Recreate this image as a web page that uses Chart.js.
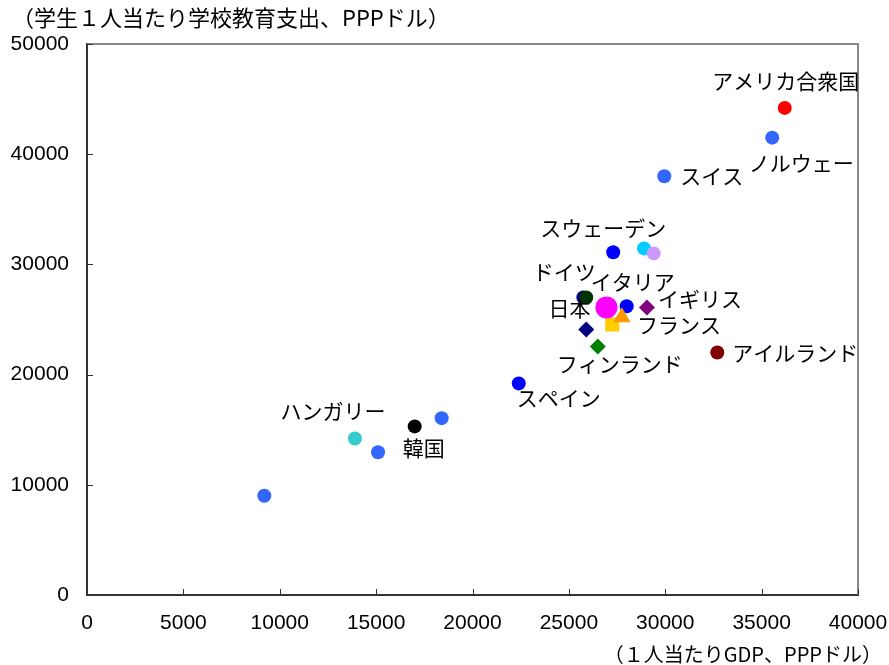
<!DOCTYPE html>
<html><head><meta charset="utf-8">
<script src="https://cdn.jsdelivr.net/npm/chart.js@4.4.1/dist/chart.umd.min.js"></script>
<style>html,body{margin:0;padding:0;background:#fff}#wrap{width:889px;height:665px}</style>
</head><body><div id="wrap"><canvas id="c" width="889" height="665"></canvas></div>
<script>
// Data (GDP per capita PPP $, expenditure per student PPP $)
const gdp      = [9200, 15100, 13900, 18400, 17000, 22400, 25900, 26500, 25900, 27300, 28000, 27250, 27750, 29050, 26950, 32700, 29950, 35550, 36200, 28900, 29400];
const spending = [9000, 12950, 14200, 16050, 15300, 19200, 27000, 22550, 24100, 31100, 26200, 24550, 25200, 26100, 26100, 22000, 38000, 41500, 44200, 31450, 31000];
const names    = ['', '', 'ハンガリー', '', '韓国', 'スペイン', 'ドイツ', 'フィンランド', '', 'スウェーデン', 'イタリア', '', 'フランス', 'イギリス', '日本', 'アイルランド', 'スイス', 'ノルウェー', 'アメリカ合衆国', '', ''];
// hidden navy marker behind Germany
const hiddenGdp = [25750];
const hiddenSpending = [27000];
// styles
const colors = ['#3366FF','#3366FF','#33CCCC','#3366FF','#000000','#0000FF','#003300','#008000','#000080','#0000FF','#0000FF','#FFCC00','#FF9900','#800080','#FF00FF','#800000','#3366FF','#3366FF','#FF0000','#00CCFF','#CC99FF'];
const shapes = ['circle','circle','circle','circle','circle','circle','circle','rectRot','rectRot','circle','circle','rect','triangle','rectRot','circle','circle','circle','circle','circle','circle','circle'];
const radii  = [7,7,7,7,7,7,7,8,8,7,7,10,10,8,11,7,7,7,7,7,7];
// label offsets (px) relative to marker, and alignment
const labelPos = {
  'ハンガリー':[-22,-28,'center'], '韓国':[9,22,'center'], 'スペイン':[-2,15,'left'],
  'フィンランド':[22,18,'center'], 'スウェーデン':[-10,-24,'center'], 'イタリア':[6,-24,'center'],
  'フランス':[15,8,'left'], 'イギリス':[11,-8,'left'], '日本':[-16,1,'right'],
  'アイルランド':[15,0,'left'], 'スイス':[16,0,'left'], 'ノルウェー':[29,25,'center'],
  'アメリカ合衆国':[1,-27,'center'], 'ドイツ':[-22,-25,'center']
};
const xTicks = [0,5000,10000,15000,20000,25000,30000,35000,40000];
const yTicks = [0,10000,20000,30000,40000,50000];
const yTitle = '（学生１人当たり学校教育支出、PPPドル）';
const xTitle = '（１人当たりGDP、PPPドル）';

const pts = gdp.map((x,i)=>({x, y: spending[i]}));
const hidden = hiddenGdp.map((x,i)=>({x, y: hiddenSpending[i]}));

const TXT = '"Noto Sans CJK JP", "Liberation Sans", sans-serif';
const NUM = '"Liberation Sans", Arial, sans-serif';

const decor = {
  id:'decor',
  beforeDatasetsDraw(chart){
    const {ctx, chartArea:a} = chart;
    ctx.save();
    ctx.strokeStyle='#888'; ctx.lineWidth=2;
    ctx.beginPath(); ctx.moveTo(a.left,a.top); ctx.lineTo(a.right,a.top); ctx.lineTo(a.right,a.bottom); ctx.stroke();
    ctx.strokeStyle='#333'; ctx.lineWidth=1;
    const xs=chart.scales.x, ys=chart.scales.y;
    xTicks.forEach(v=>{const p=Math.round(xs.getPixelForValue(v))+0.5; ctx.beginPath(); ctx.moveTo(p,a.bottom); ctx.lineTo(p,a.bottom-6); ctx.stroke();});
    yTicks.forEach(v=>{const p=Math.round(ys.getPixelForValue(v))+0.5; ctx.beginPath(); ctx.moveTo(a.left,p); ctx.lineTo(a.left+6,p); ctx.stroke();});
    ctx.restore();
  },
  afterDatasetsDraw(chart){
    const {ctx} = chart;
    const meta = chart.getDatasetMeta(0);
    ctx.save();
    ctx.fillStyle='#000'; ctx.font='21px '+TXT; ctx.textBaseline='middle';
    names.forEach((n,i)=>{
      const p=labelPos[n]; if(!n || !p) return;
      const el=meta.data[i];
      ctx.textAlign=p[2]; ctx.fillText(n, el.x+p[0], el.y+p[1]);
    });
    ctx.font='22px '+TXT; ctx.textAlign='left';
    ctx.fillText(yTitle, 12, 18);
    ctx.font='20px '+TXT; ctx.textAlign='right';
    ctx.fillText(xTitle, 882, 654);
    ctx.restore();
  }
};

new Chart(document.getElementById('c'), {
  type:'scatter',
  data:{datasets:[
    {data:pts, pointBackgroundColor:colors, pointBorderColor:colors, pointBorderWidth:0, pointStyle:shapes, pointRadius:radii, pointHoverRadius:radii},
    {data:hidden, pointBackgroundColor:'#000080', pointBorderWidth:0, pointRadius:7, pointHoverRadius:7}
  ]},
  options:{
    responsive:false, animation:false, events:[],
    layout:{padding:{top:44,right:31,left:0,bottom:0}},
    plugins:{legend:{display:false}, tooltip:{enabled:false}},
    scales:{
      x:{type:'linear', min:0, max:40000,
         afterBuildTicks(s){ s.ticks = xTicks.map(v=>({value:v})); },
         afterFit(s){ s.height=70; s.paddingLeft=0; s.paddingRight=0; },
         grid:{display:true, drawOnChartArea:false, drawTicks:false},
         border:{color:'#333', width:2},
         ticks:{padding:16, color:'#000', font:{family:NUM, size:21}, maxRotation:0, autoSkip:false, callback:v=>String(v)}},
      y:{type:'linear', min:0, max:50000,
         afterBuildTicks(s){ s.ticks = yTicks.map(v=>({value:v})); },
         afterFit(s){ s.width=87; s.paddingTop=0; s.paddingBottom=0; },
         grid:{display:true, drawOnChartArea:false, drawTicks:false},
         border:{color:'#333', width:2},
         ticks:{padding:18, color:'#000', font:{family:NUM, size:21}, autoSkip:false, callback:v=>String(v)}}
    }
  },
  plugins:[decor]
});
</script></body></html>
